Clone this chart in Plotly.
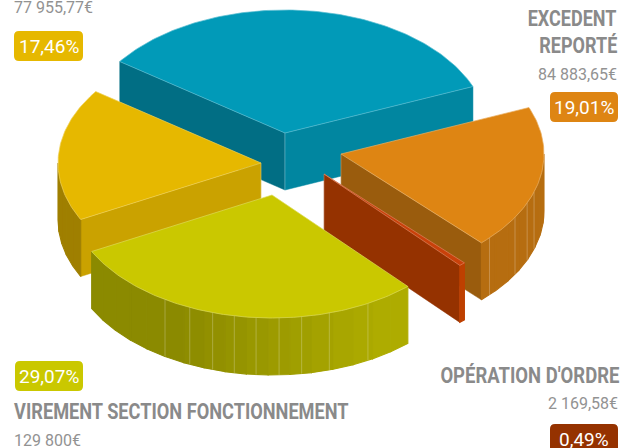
import numpy as np
import plotly.graph_objects as go

# ---- data ----
categories = ["Virement section fonctionnement", "(sans titre)", "(bleu)", "Excédent reporté", "Opération d'ordre"]
percent = [29.07, 17.46, 33.97, 19.01, 0.49]
percent_labels = ["29,07%", "17,46%", "33,97%", "19,01%", "0,49%"]
amount_labels = ["129 800€", "77 955,77€", "", "84 883,65€", "2 169,58€"]

# ---- styles ----
top_colors = ["#cac800", "#e6b800", "#019ab8", "#de8513", "#c9410a"]
side_base = ["#cac800", "#e6b800", "#019ab8", "#de8513", "#d74800"]
shade_cap = [0.86, 0.88, 0.88, 0.82, 0.9]
explode_px = [(-6, 31), (-17, -1), (7, -31), (63, -10), (46, 10)]
draw_order = [2, 1, 3, 4, 0]
seam_angles = {0: [61.8, 73.6, 81.6, 88, 94.5, 100.7, 107, 113.9, 121.8],
               3: [18, 23.5, 31, 43], 4: []}
CX, CY, RX, RY, H = 278, 164, 203, 123, 57
START = 48.0
GREY_B, GREY = "#8a8a8a", "#929292"
BOLD = "Roboto, sans-serif"


def shade(hex_c, f):
    c = [int(hex_c[i:i + 2], 16) for i in (1, 3, 5)]
    return "#%02x%02x%02x" % tuple(int(round(v * f)) for v in c)


def lighten(hex_c, t):
    c = [int(hex_c[i:i + 2], 16) for i in (1, 3, 5)]
    return "#%02x%02x%02x" % tuple(int(round(v + (255 - v) * t)) for v in c)


def light_flat(nx, cap):
    return float(np.clip(0.81 + 0.16 * nx, 0.68, cap))


def light_outer(nx, cap):
    return float(np.clip(0.77 + 0.17 * nx, 0.69, cap))


fig = go.Figure()


def poly(xs, ys, fill, line=None, lw=1.1):
    fig.add_trace(go.Scatter(x=list(xs), y=list(ys), mode="lines", fill="toself", fillcolor=fill,
                             line=dict(color=line or fill, width=lw), hoverinfo="skip", showlegend=False))


def seam(xs, ys):
    fig.add_trace(go.Scatter(x=list(xs), y=list(ys), mode="lines",
                             line=dict(color="rgba(255,255,255,0.35)", width=0.7),
                             hoverinfo="skip", showlegend=False))


# angular extents from the values
sweeps = [p / sum(percent) * 360 for p in percent]
starts = START + np.concatenate([[0], np.cumsum(sweeps)[:-1]])

for i in draw_order:
    a0, a1 = starts[i], starts[i] + sweeps[i]
    ox, oy = CX + explode_px[i][0], CY + explode_px[i][1]
    px = lambda a: ox + RX * np.cos(np.radians(a))
    py = lambda a: oy + RY * np.sin(np.radians(a))
    base = side_base[i]
    # radial walls
    for a, nx, ny in [(a0, np.sin(np.radians(a0)), -np.cos(np.radians(a0))),
                      (a1, -np.sin(np.radians(a1)), np.cos(np.radians(a1)))]:
        if ny > 0:
            poly([ox, px(a), px(a), ox, ox], [oy, py(a), py(a) + H, oy + H, oy],
                 shade(base, light_flat(nx, shade_cap[i])), lw=0.5)
            seam([ox, ox], [oy, oy + H])
    # outer wall, in facets
    edges = []
    for k in range(-1, 2):
        lo, hi = max(a0, 360 * k), min(a1, 360 * k + 180)
        if hi > lo:
            n = max(1, int(np.ceil((hi - lo) / 6.5)))
            edges += [np.linspace(lo, hi, n + 1)]
    for e in edges:
        for u, v in zip(e[:-1], e[1:]):
            t = np.linspace(u, v, 5)
            xs = np.concatenate([px(t), px(t[::-1])])
            ys = np.concatenate([py(t), py(t[::-1]) + H])
            poly(np.append(xs, xs[0]), np.append(ys, ys[0]),
                 shade(base, light_outer(np.cos(np.radians((u + v) / 2)), shade_cap[i])))
    for a in seam_angles.get(i, []):
        seam([px(a), px(a)], [py(a), py(a) + H])
    # top face
    t = np.linspace(a0, a1, max(3, int(sweeps[i]) + 2))
    xs = np.concatenate([[ox], px(t), [ox]])
    ys = np.concatenate([[oy], py(t), [oy]])
    poly(xs, ys, top_colors[i], line=lighten(top_colors[i], 0.35), lw=0.7)


def badge(x0, x1, y0, y1, color, r=5):
    path = (f"M{x0 + r},{y0} L{x1 - r},{y0} Q{x1},{y0} {x1},{y0 + r} L{x1},{y1 - r} Q{x1},{y1} {x1 - r},{y1} "
            f"L{x0 + r},{y1} Q{x0},{y1} {x0},{y1 - r} L{x0},{y0 + r} Q{x0},{y0} {x0 + r},{y0} Z")
    return dict(type="path", path=path, fillcolor=color, line=dict(width=0), xref="x", yref="y", layer="above")


shapes = [badge(14, 83, 31, 61, top_colors[1]), badge(550, 618, 92, 122, top_colors[3]),
          badge(15, 83, 361, 391, top_colors[0]), badge(550, 618, 424, 454, "#953200")]


def label(x, y, s, anchor, size, color, family, bold=False):
    return dict(x=x, y=y, xref="x", yref="y", text=f"<b>{s}</b>" if bold else s, showarrow=False,
                xanchor=anchor, yanchor="middle", font=dict(size=size, color=color, family=family))


RB = "Roboto, sans-serif"
ann = [
    label(12, 7, amount_labels[1], "left", 16, GREY, RB),
    label(48.5, 46, percent_labels[1], "center", 19, "white", RB),
    label(619, 18, "EXCEDENT", "right", 22, GREY_B, BOLD, True),
    label(619, 45, "REPORTÉ", "right", 22, GREY_B, BOLD, True),
    label(619, 74, amount_labels[3], "right", 16, GREY, RB),
    label(584, 107, percent_labels[3], "center", 19, "white", RB),
    label(49, 376, percent_labels[0], "center", 19, "white", RB),
    label(12, 411, "VIREMENT SECTION FONCTIONNEMENT", "left", 22, GREY_B, BOLD, True),
    label(12, 440, amount_labels[0], "left", 16, GREY, RB),
    label(621, 375, "OPÉRATION D'ORDRE", "right", 22, GREY_B, BOLD, True),
    label(620, 403, amount_labels[4], "right", 16, GREY, RB),
    label(584, 439, percent_labels[4], "center", 19, "white", RB),
]

fig.update_layout(width=631, height=448, autosize=False, margin=dict(l=0, r=0, t=0, b=0),
                  paper_bgcolor="white", plot_bgcolor="white", showlegend=False,
                  xaxis=dict(range=[0, 631], visible=False, fixedrange=True),
                  yaxis=dict(range=[448, 0], visible=False, fixedrange=True),
                  shapes=shapes, annotations=ann)

# The reference's headings are in a condensed bold face: squeeze the real text horizontally.
post = """
document.body.style.margin='0';
var W={'EXCEDENT':[89,1],'REPORTÉ':[78,1],'OPÉRATION D\\'ORDRE':[179,1],'VIREMENT SECTION FONCTIONNEMENT':[335,0]};
document.querySelectorAll('.annotation-text').forEach(function(t){
  var w=W[t.textContent]; if(!w) return;
  var b=t.getBBox(), ax=w[1]? b.x+b.width : b.x, s=w[0]/b.width;
  t.setAttribute('transform','translate('+ax+',0) scale('+s+',1) translate('+(-ax)+',0)');
});
"""
fig.write_html("out.html", config=dict(displayModeBar=False), post_script=post)
